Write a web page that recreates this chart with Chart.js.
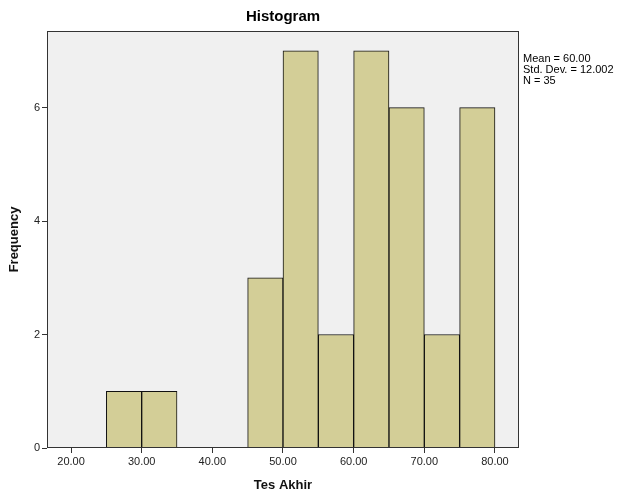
<!DOCTYPE html>
<html>
<head>
<meta charset="utf-8">
<script src="https://cdn.jsdelivr.net/npm/chart.js@4"></script>
<style>
  html, body { margin: 0; padding: 0; background: #fff; }
  #wrap { width: 624px; height: 492px; }
</style>
</head>
<body>
<div id="wrap"><canvas id="hist"></canvas></div>
<script>
// bin centres (bins are 5 wide) and their counts
const binCenters = [27.5, 32.5, 47.5, 52.5, 57.5, 62.5, 67.5, 72.5, 77.5];
const binCounts = [1, 1, 3, 7, 2, 7, 6, 2, 6];
const statLines = ['Mean = 60.00', 'Std. Dev. = 12.002', 'N = 35'];

const FONT = '"Liberation Sans", Arial, sans-serif';

// plot background, frame, title and the stats box
const frame = {
    id: 'frame',
    beforeDatasetsDraw(chart) {
        const { ctx, chartArea: a } = chart;
        ctx.save();
        ctx.fillStyle = '#f0f0f0';
        ctx.fillRect(a.left, a.top, a.right - a.left, a.bottom - a.top);
        ctx.restore();
    },
    afterDraw(chart) {
        const { ctx, chartArea: a } = chart;
        ctx.save();
        ctx.strokeStyle = '#333';
        ctx.lineWidth = 1;
        ctx.strokeRect(a.left + 0.5, a.top + 0.5, a.right - a.left - 1, a.bottom - a.top - 1);

        ctx.fillStyle = '#000';
        ctx.font = 'bold 15px ' + FONT;
        ctx.textAlign = 'center';
        ctx.textBaseline = 'middle';
        ctx.fillText('Histogram', (a.left + a.right) / 2, 17);

        ctx.font = '11px ' + FONT;
        ctx.textAlign = 'left';
        statLines.forEach((t, i) => ctx.fillText(t, a.right + 4, 59 + i * 11));
        ctx.restore();
    }
};

new Chart(document.getElementById('hist'), {
    type: 'bar',
    data: {
        datasets: [{
            data: binCenters.map((x, i) => ({ x, y: binCounts[i] })),
            backgroundColor: '#d3ce97',
            borderColor: '#111',
            borderWidth: 1,
            barPercentage: 1,
            categoryPercentage: 1
        }]
    },
    options: {
        responsive: true,
        maintainAspectRatio: false,
        animation: false,
        layout: { padding: { top: 31, right: 105, left: 0, bottom: 0 } },
        plugins: { legend: { display: false }, tooltip: { enabled: false } },
        scales: {
            x: {
                type: 'linear',
                min: 16.6,
                max: 83.4,
                offset: false,
                afterFit: s => { s.height = 44; },
                grid: { drawOnChartArea: false, offset: false, tickLength: 5, color: '#333' },
                border: { display: false },
                ticks: {
                    stepSize: 10,
                    includeBounds: false,
                    color: '#222',
                    font: { family: FONT, size: 11 },
                    padding: 2,
                    maxRotation: 0,
                    callback: v => v.toFixed(2)
                },
                title: {
                    display: true,
                    text: 'Tes Akhir',
                    color: '#111',
                    font: { family: FONT, size: 13, weight: 'bold', lineHeight: 1 },
                    padding: { top: 0, bottom: 0 }
                }
            },
            y: {
                min: 0,
                max: 7.35,
                afterFit: s => { s.width = 47; },
                grid: { drawOnChartArea: false, tickLength: 5, color: '#333' },
                border: { display: false },
                ticks: {
                    stepSize: 2,
                    includeBounds: false,
                    color: '#222',
                    font: { family: FONT, size: 11 },
                    padding: 2
                },
                title: {
                    display: true,
                    text: 'Frequency',
                    color: '#111',
                    font: { family: FONT, size: 13, weight: 'bold' },
                    padding: { top: 7, bottom: 0 }
                }
            }
        }
    },
    plugins: [frame]
});
</script>
</body>
</html>
